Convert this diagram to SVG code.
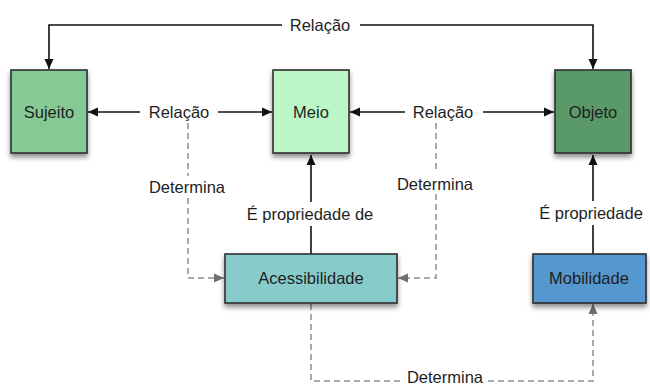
<svg xmlns="http://www.w3.org/2000/svg" width="650" height="388" viewBox="0 0 650 388">
  <style>
    text { font-family: "Liberation Sans", Arial, Helvetica, sans-serif; font-size: 16.5px; fill: #1e1e1e; }
    .lbl { text-anchor: middle; }
    .box { stroke: #2e2e2e; stroke-width: 1.6; filter: url(#shadow); }
    .solid { fill: none; stroke: #111; stroke-width: 1.6; }
    .dash { fill: none; stroke: #8f8f8f; stroke-width: 1.5; stroke-dasharray: 6 4; }
  </style>
  <defs>
    <filter id="shadow" x="-20%" y="-20%" width="140%" height="150%">
      <feDropShadow dx="0" dy="3.5" stdDeviation="2.5" flood-color="#000" flood-opacity="0.45"/>
    </filter>
    <marker id="arrow" viewBox="0 0 10 10" refX="10" refY="5" markerWidth="10" markerHeight="10" markerUnits="userSpaceOnUse" orient="auto">
      <path d="M0,0.5 L10,5 L0,9.5 Z" fill="#111"/>
    </marker>
    <marker id="arrowGray" viewBox="0 0 10 10" refX="10" refY="5" markerWidth="10" markerHeight="10" markerUnits="userSpaceOnUse" orient="auto">
      <path d="M0,0.5 L10,5 L0,9.5 Z" fill="#6f6f6f"/>
    </marker>
  </defs>

  <rect width="650" height="388" fill="#ffffff"/>

  <!-- connectors -->
  <g id="connectors">
    <!-- top relation Sujeito / Objeto -->
    <path class="solid" d="M282,25 H49 V69" marker-end="url(#arrow)"/>
    <path class="solid" d="M360,25 H593 V69" marker-end="url(#arrow)"/>
    <text class="lbl" x="320" y="31">Relação</text>

    <!-- Sujeito / Meio -->
    <path class="solid" d="M140,112 H88" marker-end="url(#arrow)"/>
    <path class="solid" d="M218,112 H272" marker-end="url(#arrow)"/>
    <text class="lbl" x="179" y="118">Relação</text>

    <!-- Meio / Objeto -->
    <path class="solid" d="M405,112 H350" marker-end="url(#arrow)"/>
    <path class="solid" d="M483,112 H554" marker-end="url(#arrow)"/>
    <text class="lbl" x="443" y="118">Relação</text>

    <!-- Acessibilidade -> Meio -->
    <path class="solid" d="M311,254 V226"/>
    <path class="solid" d="M311,202 V155" marker-end="url(#arrow)"/>
    <text class="lbl" x="310" y="220">É propriedade de</text>

    <!-- Mobilidade -> Objeto -->
    <path class="solid" d="M593,254 V225"/>
    <path class="solid" d="M593,201 V155" marker-end="url(#arrow)"/>
    <text class="lbl" x="591" y="219">É propriedade</text>

    <!-- Determina (left) -->
    <path class="dash" d="M188,123 V176"/>
    <path class="dash" d="M188,198 V278 H224" marker-end="url(#arrowGray)"/>
    <text class="lbl" x="187" y="193">Determina</text>

    <!-- Determina (right) -->
    <path class="dash" d="M436,123 V172"/>
    <path class="dash" d="M436,194 V278 H398" marker-end="url(#arrowGray)"/>
    <text class="lbl" x="435" y="190">Determina</text>

    <!-- Determina (bottom) -->
    <path class="dash" d="M311,304 V381 H402"/>
    <path class="dash" d="M488,381 H593 V304" marker-end="url(#arrowGray)"/>
    <text class="lbl" x="445" y="383">Determina</text>
  </g>

  <!-- nodes -->
  <g id="sujeito">
    <rect class="box" x="11" y="70" width="76" height="83" fill="#85c994"/>
    <text class="lbl" x="49" y="118">Sujeito</text>
  </g>
  <g id="meio">
    <rect class="box" x="273" y="70" width="76" height="83" fill="#bdf6c6"/>
    <text class="lbl" x="311" y="118">Meio</text>
  </g>
  <g id="objeto">
    <rect class="box" x="555" y="70" width="76" height="83" fill="#5a9a67"/>
    <text class="lbl" x="593" y="118">Objeto</text>
  </g>
  <g id="acessibilidade">
    <rect class="box" x="225" y="254" width="172" height="49" fill="#87cccb"/>
    <text class="lbl" x="311" y="284">Acessibilidade</text>
  </g>
  <g id="mobilidade">
    <rect class="box" x="533" y="254" width="113" height="49" fill="#5597cf"/>
    <text class="lbl" x="589" y="284">Mobilidade</text>
  </g>
</svg>
